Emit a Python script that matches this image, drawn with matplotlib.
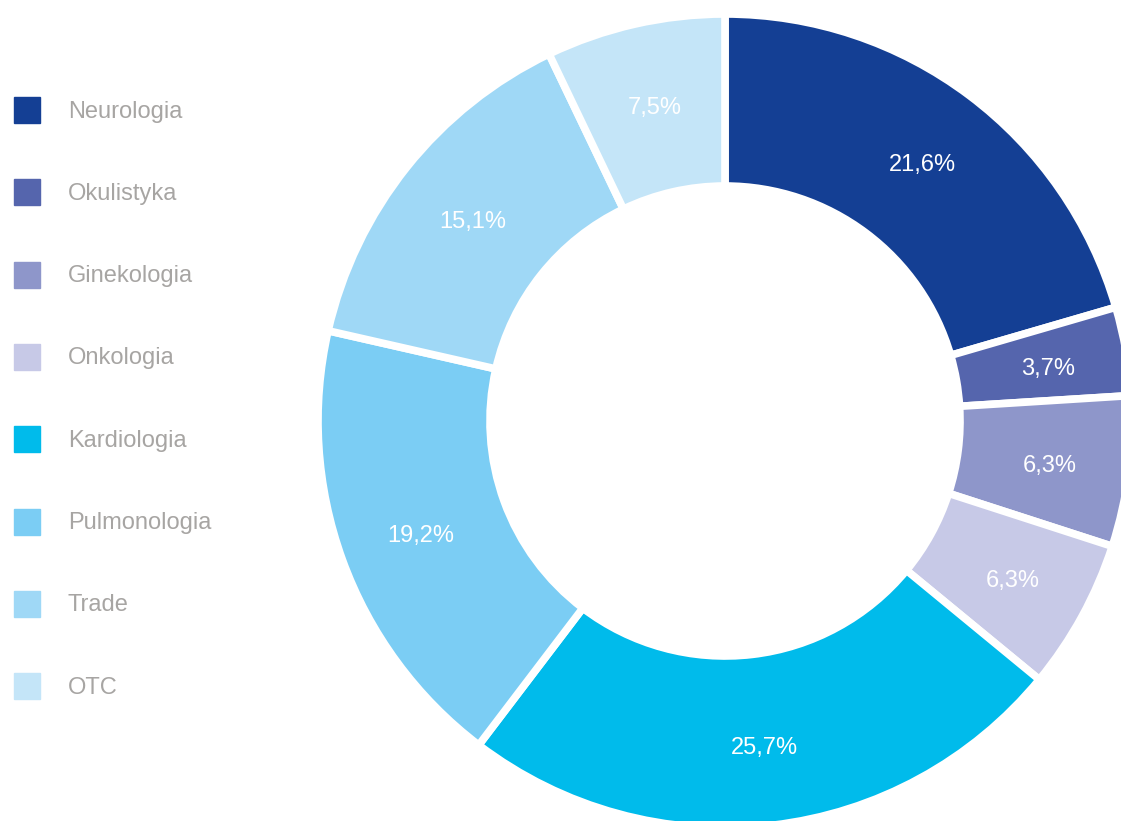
import matplotlib.pyplot as plt
from matplotlib.patches import Rectangle

# dane wykresu
kategorie = ['Neurologia', 'Okulistyka', 'Ginekologia', 'Onkologia',
             'Kardiologia', 'Pulmonologia', 'Trade', 'OTC']
udzialy = [21.6, 3.7, 6.3, 6.3, 25.7, 19.2, 15.1, 7.5]
kolory = ['#143F94', '#5565AD', '#8E96CA', '#C7C9E7',
          '#00BBEB', '#7BCDF4', '#9FD8F6', '#C4E5F8']

plt.rcParams['font.family'] = ['Liberation Sans', 'DejaVu Sans']

fig = plt.figure(figsize=(11.21, 8.21), dpi=100)
ax = fig.add_axes([0, 0, 1, 1])

suma = sum(udzialy)


def etykieta(pct):
    return f"{pct * suma / 100:.1f}%".replace('.', ',')


wedges, _, teksty = ax.pie(
    udzialy, colors=kolory, startangle=90, counterclock=False,
    center=(725, 400), radius=407, autopct=etykieta, pctdistance=0.8,
    wedgeprops=dict(width=172, edgecolor='white', linewidth=5.5),
    textprops=dict(color='white', fontsize=17))

# etykiety procentowe troche nizej
for t in teksty:
    x, y = t.get_position()
    t.set_position((x + 2, y - 4))

# legenda
for i, (nazwa, kolor) in enumerate(zip(kategorie, kolory)):
    y = 821 - (110 + i * 82.3)
    ax.add_patch(Rectangle((14, y - 13), 26, 26, color=kolor))
    ax.text(68, y - 1.5, nazwa, fontsize=17, color='#A7A5A3', va='center', ha='left')

ax.set_xlim(0, 1121)
ax.set_ylim(0, 821)
ax.set_aspect('equal')
ax.axis('off')

fig.savefig('out.png', dpi=100, facecolor='white')
